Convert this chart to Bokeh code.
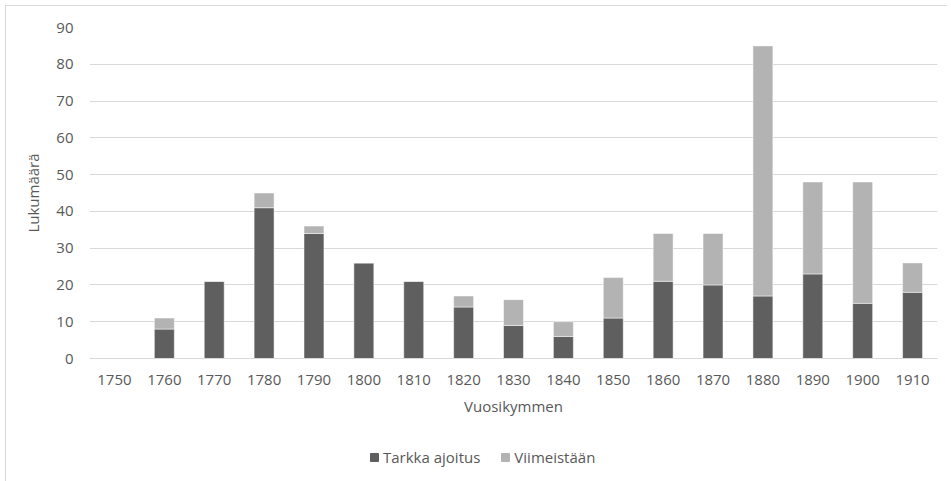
from bokeh.plotting import figure
from bokeh.models import Legend, LegendItem, FactorRange, Range1d
from bokeh.layouts import column
from bokeh.embed import file_html
from bokeh.resources import INLINE

decades = ["1750", "1760", "1770", "1780", "1790", "1800", "1810", "1820", "1830",
           "1840", "1850", "1860", "1870", "1880", "1890", "1900", "1910"]
tarkka = [0, 8, 21, 41, 34, 26, 21, 14, 9, 6, 11, 21, 20, 17, 23, 15, 18]
viimeistaan = [0, 3, 0, 4, 2, 0, 0, 3, 7, 4, 11, 13, 14, 68, 25, 33, 8]
series_labels = ["Tarkka ajoitus", "Viimeistään"]
colors = ["#5f5f5f", "#b3b3b3"]

FONT = "Open Sans"
TXT = "#595959"
FS = "15px"

p = figure(x_range=FactorRange(*decades, range_padding=0.0), y_range=Range1d(0, 90),
           width=941, height=422, output_backend="svg", toolbar_location=None,
           min_border_left=83, min_border_right=10, min_border_top=21, min_border_bottom=70)

src = dict(x=decades, tarkka=tarkka, viimeistaan=viimeistaan)
r = p.vbar_stack(["tarkka", "viimeistaan"], x="x", width=0.4, source=src,
                 color=colors, line_color="white", line_width=0.5)

p.outline_line_color = None
p.xgrid.grid_line_color = None
p.ygrid.grid_line_color = "#d9d9d9"
p.ygrid.grid_line_width = 1
p.yaxis.ticker = list(range(0, 91, 10))
p.yaxis.axis_line_color = None
p.xaxis.axis_line_color = "#d9d9d9"
for ax in (p.xaxis, p.yaxis):
    ax.major_tick_line_color = None
    ax.minor_tick_line_color = None
    ax.major_tick_out = 0
    ax.major_tick_in = 0
    ax.minor_tick_out = 0
    ax.major_label_text_font = FONT
    ax.major_label_text_font_size = FS
    ax.major_label_text_color = TXT
    ax.axis_label_text_font = FONT
    ax.axis_label_text_font_size = FS
    ax.axis_label_text_color = TXT
    ax.axis_label_text_font_style = "normal"
p.yaxis.axis_label = "Lukumäärä"
p.xaxis.axis_label = "Vuosikymmen"
p.xaxis.major_label_standoff = 16
p.yaxis.major_label_standoff = 16
p.xaxis.axis_label_standoff = 8
p.yaxis.axis_label_standoff = 10

# legend strip below the chart (its frame is aligned with the chart's frame)
lg = figure(width=941, height=54, output_backend="svg", toolbar_location=None,
            x_range=Range1d(0, 1), y_range=Range1d(0, 1),
            min_border_left=0, min_border_right=0, min_border_top=0, min_border_bottom=0)
lg.axis.visible = False
lg.grid.visible = False
lg.outline_line_color = None
offscreen = dict(x=[-5], top=[-5])
lr = [lg.vbar(x="x", top="top", width=0.5, source=offscreen, color=c) for c in colors]
legend = Legend(items=[LegendItem(label=series_labels[i], renderers=[lr[i]]) for i in range(2)],
                orientation="horizontal", location=(280, 15),
                label_text_font=FONT, label_text_font_size=FS, label_text_color=TXT,
                glyph_width=10, glyph_height=10, spacing=20, label_standoff=4,
                border_line_color=None, background_fill_alpha=0, margin=0, padding=4)
lg.add_layout(legend, "center")

layout = column(p, lg, spacing=0, margin=(5, 0, 0, 5),
                styles={"border-left": "1px solid #d9d9d9", "border-top": "1px solid #d9d9d9"})

open("out.html", "w").write(file_html(layout, INLINE))
